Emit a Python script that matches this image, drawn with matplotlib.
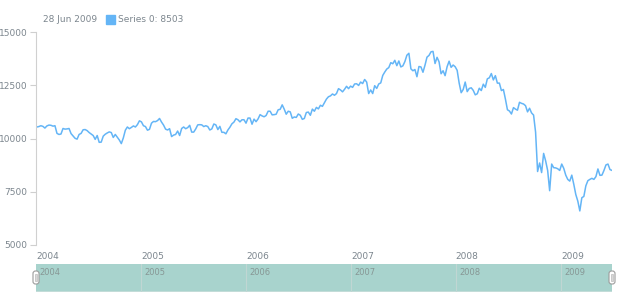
import matplotlib
matplotlib.use("Agg")
import matplotlib.pyplot as plt
from matplotlib.patches import FancyBboxPatch, Rectangle
from matplotlib.transforms import IdentityTransform
import pandas as pd

# weekly closes (Sundays)
dow_2004 = [10540, 10560, 10600, 10570, 10490, 10590, 10630, 10620, 10580, 10600, 10240, 10190, 10210,
            10470, 10440, 10450, 10470, 10230, 10120, 10010, 9970, 10190, 10240, 10410, 10420, 10370,
            10280, 10210, 10140, 9960, 10140, 9820, 9830, 10110, 10200, 10260, 10310, 10280, 10050,
            10190, 10060, 9930, 9760, 10030, 10390, 10540, 10460, 10520, 10590, 10540, 10650, 10830]
dow_2005 = [10780, 10600, 10560, 10390, 10430, 10720, 10800, 10790, 10840, 10940, 10770, 10630, 10440,
            10400, 10460, 10090, 10160, 10190, 10350, 10140, 10470, 10540, 10460, 10510, 10620, 10300,
            10300, 10450, 10640, 10650, 10640, 10560, 10600, 10560, 10400, 10450, 10680, 10640, 10420,
            10570, 10290, 10290, 10220, 10400, 10530, 10690, 10770, 10930, 10880, 10780, 10880, 10880]
dow_2006 = [10720, 10960, 10960, 10670, 10910, 10790, 10920, 11120, 11060, 11020, 11080, 11280, 11280,
            11110, 11120, 11140, 11350, 11370, 11580, 11380, 11140, 11280, 11250, 10950, 11010, 10990,
            11150, 11090, 10900, 10940, 11220, 11240, 11090, 11380, 11280, 11460, 11390, 11560, 11510,
            11680, 11850, 11960, 12000, 12090, 12030, 12110, 12340, 12280, 12190, 12310, 12450, 12340, 12460]
dow_2007 = [12400, 12560, 12570, 12490, 12650, 12580, 12770, 12650, 12110, 12280, 12110, 12480,
            12350, 12560, 12610, 12960, 13120, 13260, 13330, 13560, 13510, 13670, 13420, 13640, 13360,
            13410, 13610, 13910, 14000, 13270, 13180, 13240, 12900, 13380, 13360, 13110, 13440, 13820, 13900,
            14070, 14090, 13520, 13810, 13600, 13040, 13180, 12950, 13370, 13630, 13340, 13450, 13370]
dow_2008 = [13200, 12600, 12150, 12300, 12650, 12200, 12350, 12380, 12260, 12050, 12100, 12360, 12250,
            12550, 12400, 12800, 12850, 13050, 12750, 12950, 12600, 12600, 12250, 12300, 11850, 11350,
            11290, 11150, 11450, 11380, 11330, 11700, 11650, 11620, 11540, 11250, 11420, 11200, 11100,
            10300, 8450, 8850, 8400, 9300, 8950, 8500, 7550, 8800, 8630, 8620, 8580, 8500]
dow_2009 = [8800, 8600, 8280, 8080, 8000, 8280, 7850, 7370, 7060, 6600, 7220, 7280, 7780,
            8020, 8080, 8130, 8080, 8210, 8570, 8270, 8280, 8500, 8760, 8800, 8540, 8503]

years = ["2004", "2005", "2006", "2007", "2008", "2009"]
y_ticks = [5000, 7500, 10000, 12500, 15000]

values = dow_2004 + dow_2005 + dow_2006 + dow_2007 + dow_2008 + dow_2009
weeks = pd.date_range("2004-01-04", "2009-06-28", freq="7D")
df = pd.DataFrame({"date": weeks[:len(values)], "value": values})

line_color = "#64b5f6"
text_color = "#7c868e"
start = pd.Timestamp("2004-01-01")
end = df["date"].iloc[-1]
year_pos = [pd.Timestamp(y + "-01-01") for y in years]

fig = plt.figure(figsize=(6.2, 3), dpi=100)
fig.patch.set_facecolor("white")

# main chart
ax = fig.add_axes([36 / 620, 55 / 300, 576 / 620, 213 / 300])
ax.plot(df["date"], df["value"], color=line_color, lw=1.1)
ax.set_xlim(start, end)
ax.set_ylim(5000, 15000)
ax.set_yticks(y_ticks)
ax.set_yticklabels([str(v) for v in y_ticks])
ax.set_xticks(year_pos)
ax.set_xticklabels(years, ha="left")
ax.tick_params(axis="y", length=4, width=0.8, color="#cfcfcf", labelsize=6.5,
               labelcolor=text_color, pad=2)
ax.tick_params(axis="x", length=0, labelsize=6.5, labelcolor=text_color, pad=5)
for s in ["top", "right", "bottom"]:
    ax.spines[s].set_visible(False)
ax.spines["left"].set_color("#d0d0d0")
ax.spines["left"].set_linewidth(0.8)

# header / tooltip line
last_date = df["date"].iloc[-1].strftime("%d %b %Y")
last_val = df["value"].iloc[-1]
fig.text(43 / 620, 1 - 19 / 300, last_date, color=text_color, fontsize=6.5, va="center")
fig.add_artist(Rectangle((106, 276), 9, 9, color=line_color, transform=IdentityTransform()))
fig.text(118 / 620, 1 - 19 / 300, "Series 0: %d" % last_val, color=text_color, fontsize=6.5, va="center")

# scroller
ax_s = fig.add_axes([36 / 620, 8 / 300, 576 / 620, 28 / 300])
ax_s.set_facecolor("#a8d3cd")
ax_s.set_xlim(start, end)
ax_s.set_ylim(0, 1)
ax_s.set_xticks([])
ax_s.set_yticks([])
for s in ax_s.spines.values():
    s.set_visible(False)
ax_s.axhline(0, color="#c9dedb", lw=1.2)
for i, yp in enumerate(year_pos):
    if i > 0:
        ax_s.axvline(yp, color="#c0d6d3", lw=0.8)
    ax_s.text(yp + pd.Timedelta(days=12), 0.86, years[i], color="#879795",
              fontsize=6, va="top", ha="left")

for hx in (33, 609):
    fig.add_artist(FancyBboxPatch((hx, 16), 6, 13, boxstyle="round,pad=0,rounding_size=2.5",
                                  fc="white", ec="#9c9c9c", lw=0.8, transform=IdentityTransform()))
    fig.add_artist(Rectangle((hx + 2, 19), 2, 7, fc="#d8d8d8", ec="#b0b0b0", lw=0.4,
                             transform=IdentityTransform()))

fig.savefig("out.png", dpi=100)
